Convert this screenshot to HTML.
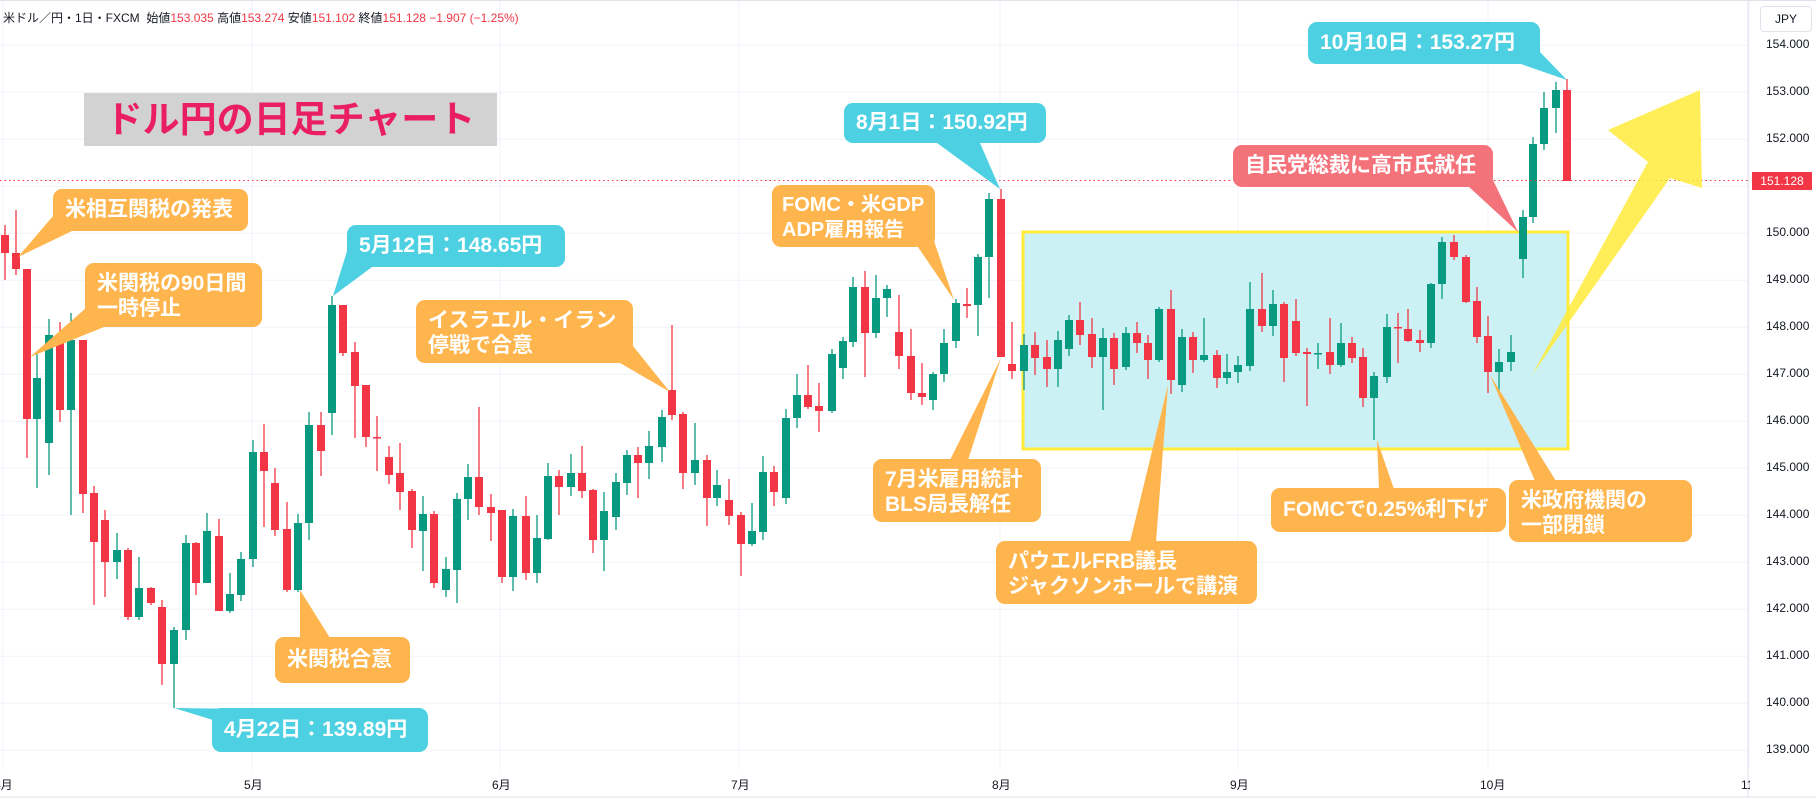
<!DOCTYPE html>
<html><head><meta charset="utf-8"><style>
html,body{margin:0;padding:0;background:#fff;}
#w{position:relative;width:1816px;height:798px;overflow:hidden;font-family:"Liberation Sans","Noto Sans CJK JP",sans-serif;}
svg{position:absolute;left:0;top:0;}
.b{position:absolute;color:#fff;font-weight:bold;font-size:21px;line-height:25px;border-radius:9px;box-sizing:border-box;padding:8px 12px;white-space:nowrap;font-family:"Liberation Sans","Noto Sans CJK JP",sans-serif;}
.o{background:#ffb54d;}
.c{background:#4dd0e1;}
.p{background:#f4737b;}
.one{padding:0 12px;line-height:42px;}
.ax{position:absolute;font-size:12px;color:#131722;}
#hdr{position:absolute;left:3px;top:9px;font-size:12px;color:#131722;white-space:nowrap;}
#hdr span{color:#f23645;}
</style></head><body><div id="w">
<svg id="s" width="1816" height="798" viewBox="0 0 1816 798"></svg>
<div id="hdr">米ドル／円・1日・FXCM &nbsp;始値<span>153.035</span> 高値<span>153.274</span> 安値<span>151.102</span> 終値<span>151.128 −1.907 (−1.25%)</span></div>
<div style="position:absolute;left:1760px;top:6px;width:52px;height:26px;border:1px solid #e0e3eb;border-radius:4px;box-sizing:border-box;font-size:12px;text-align:center;line-height:24px;color:#131722;">JPY</div>
<div style="position:absolute;left:84px;top:93px;width:413px;height:53px;background:#d2d2d2;color:#e91e63;font-weight:bold;font-size:37px;line-height:53px;text-align:center;font-family:'Liberation Sans','Noto Sans CJK JP',sans-serif;">ドル円の日足チャート</div>
<div class="b o one" style="left:53px;top:189px;width:195px;height:42px;">米相互関税の発表</div>
<div class="b o" style="left:85px;top:263px;width:177px;height:64px;">米関税の90日間<br>一時停止</div>
<div class="b c one" style="left:347px;top:225px;width:218px;height:42px;">5月12日：148.65円</div>
<div class="b o" style="left:416px;top:300px;width:217px;height:63px;">イスラエル・イラン<br>停戦で合意</div>
<div class="b o" style="left:772px;top:185px;width:163px;height:62px;font-size:20px;padding:8px 10px;">FOMC・米GDP<br>ADP雇用報告</div>
<div class="b c one" style="left:844px;top:103px;width:202px;height:40px;line-height:40px;">8月1日：150.92円</div>
<div class="b o" style="left:873px;top:459px;width:168px;height:63px;">7月米雇用統計<br>BLS局長解任</div>
<div class="b o" style="left:996px;top:541px;width:261px;height:63px;">パウエルFRB議長<br>ジャクソンホールで講演</div>
<div class="b o one" style="left:1271px;top:488px;width:235px;height:44px;line-height:44px;">FOMCで0.25%利下げ</div>
<div class="b o" style="left:1509px;top:480px;width:183px;height:62px;">米政府機関の<br>一部閉鎖</div>
<div class="b p one" style="left:1233px;top:145px;width:260px;height:42px;">自民党総裁に高市氏就任</div>
<div class="b c one" style="left:1308px;top:22px;width:232px;height:42px;">10月10日：153.27円</div>
<div class="b c one" style="left:212px;top:708px;width:216px;height:44px;line-height:44px;">4月22日：139.89円</div>
<div class="b o one" style="left:275px;top:637px;width:135px;height:46px;line-height:46px;">米関税合意</div>
<div id="ax"></div>
</div>
<script>
var NS="http://www.w3.org/2000/svg",s=document.getElementById('s');
function el(t,a){var e=document.createElementNS(NS,t);for(var k in a)e.setAttribute(k,a[k]);s.appendChild(e);return e;}
function Y(p){return 45.3+(154-p)*47.0;}
for(var p=139;p<=154;p++){el('line',{x1:0,x2:1748,y1:Y(p),y2:Y(p),stroke:'#f0f3fa','stroke-width':1});}
var months=[[3,'月'],[252,'5月'],[500,'6月'],[739,'7月'],[1000,'8月'],[1238,'9月'],[1488,'10月'],[1749,'11月']];
months.forEach(function(m){el('line',{x1:m[0],x2:m[0],y1:0,y2:770,stroke:'#f0f3fa','stroke-width':1});});
el('line',{x1:1748,x2:1748,y1:0,y2:798,stroke:'#e0e3eb','stroke-width':1});
el('line',{x1:0,x2:1816,y1:797,y2:797,stroke:'#e0e3eb','stroke-width':1});
el('line',{x1:0,x2:1816,y1:0.5,y2:0.5,stroke:'#e0e3eb','stroke-width':1});
el('rect',{x:1023,y:232,width:545,height:217,fill:'#cbf1f4',stroke:'#ffeb3b','stroke-width':3});
var D=[[5,235,253,225,280],[16,253,269,210,275],[27,269,419,269,458],[37,419,378,353,488],[49,443,335,319,475],[60,335,410,322,422],[71,410,340,313,515],[83,340,494,340,513],[94,493,542,486,605],[105,520,562,510,597],[117,562,550,533,579],[128,550,617,548,620],[139,617,588,557,620],[151,588,603,587,605],[162,607,664,600,685],[174,664,630,627,708],[186,630,543,535,640],[196,543,583,542,595],[207,583,531,513,583],[219,536,611,519,611],[230,611,594,573,613],[241,595,559,552,601],[253,559,452,440,567],[264,452,471,424,527],[275,483,530,468,536],[287,529,590,502,592],[298,590,523,514,592],[309,523,425,412,540],[321,425,451,412,476],[332,413,305,296,435],[343,305,353,305,356],[355,352,386,342,438],[366,385,437,385,447],[377,437,438,416,471],[389,457,475,446,484],[400,473,492,443,510],[412,491,530,489,548],[423,531,514,496,571],[434,514,583,511,588],[446,590,569,557,597],[457,570,499,493,603],[468,499,477,464,520],[479,477,507,407,515],[491,507,513,494,541],[502,510,577,510,583],[513,577,516,509,591],[526,516,573,496,580],[537,573,538,515,583],[548,539,476,463,540],[559,476,487,470,515],[571,487,473,454,496],[582,473,491,446,498],[593,490,540,489,553],[604,540,511,492,571],[616,517,482,473,530],[627,483,455,450,495],[638,455,463,447,498],[649,463,446,431,479],[662,447,417,410,462],[672,390,415,325,420],[683,414,473,412,489],[695,473,460,423,485],[707,460,498,455,526],[717,498,485,470,506],[729,500,516,479,525],[741,515,544,512,576],[752,544,531,503,546],[763,532,472,456,540],[774,472,492,466,506],[786,498,418,409,504],[797,418,395,374,428],[808,395,407,365,409],[819,406,411,383,432],[832,411,354,349,413],[843,368,341,337,379],[853,342,287,277,347],[865,287,333,271,377],[876,333,298,275,338],[887,298,289,285,317],[899,332,356,295,369],[911,356,393,329,400],[922,393,397,363,405],[933,400,374,372,410],[944,374,343,329,382],[956,341,303,299,348],[967,304,306,288,318],[978,305,257,254,336],[989,257,199,193,298],[1001,199,357,189,357],[1012,364,371,322,379],[1024,371,345,334,390],[1035,345,358,332,375],[1047,357,369,340,387],[1058,369,340,331,387],[1069,349,320,315,356],[1080,320,335,302,345],[1092,334,357,318,368],[1103,357,338,328,410],[1114,338,369,333,385],[1126,367,333,327,370],[1137,333,343,322,353],[1148,343,360,335,379],[1159,360,309,307,362],[1171,309,380,290,394],[1182,385,337,329,392],[1193,337,360,332,373],[1204,360,355,318,362],[1217,355,378,350,388],[1227,378,372,354,384],[1238,372,365,356,383],[1250,366,309,282,371],[1262,309,326,273,332],[1273,326,304,290,336],[1284,304,358,302,382],[1296,321,353,299,356],[1307,352,354,348,406],[1318,354,353,343,369],[1330,352,365,318,374],[1341,365,343,323,367],[1352,343,358,337,363],[1363,357,398,348,407],[1374,398,376,372,440],[1387,377,327,314,383],[1398,327,328,313,363],[1408,329,341,309,342],[1420,340,343,330,352],[1431,343,284,283,348],[1442,284,242,237,299],[1454,242,257,235,260],[1466,257,302,255,303],[1477,301,337,287,343],[1488,336,372,316,393],[1499,372,362,349,392],[1511,362,352,335,371],[1523,259,217,210,278],[1533,217,144,137,223],[1544,144,108,92,150],[1556,108,90,82,133],[1567,90,181,79,181]];
D.forEach(function(d){var x=d[0],o=d[1],c=d[2],h=d[3],l=d[4];var col=c<o?'#089981':'#f23645';
el('line',{x1:x,x2:x,y1:h,y2:l,stroke:col,'stroke-width':1.3});
var t=Math.min(o,c),bh=Math.max(1.5,Math.abs(o-c));el('rect',{x:x-4,y:t,width:8,height:bh,fill:col});});
el('line',{x1:0,x2:1748,y1:180.5,y2:180.5,stroke:'#f23645','stroke-width':1,'stroke-dasharray':'1.5 3'});
el('polygon',{points:'1532,375 1648,162 1608,130 1700,90 1702,188 1670,178',fill:'#ffeb3b','fill-opacity':0.85});
var T=[['#ffb54d','53,216 72,231 18,257'],['#ffb54d','86,308 104,327 30,357'],['#4dd0e1','348,248 372,267 333,296'],['#ffb54d','620,363 633,346 670,392'],['#ffb54d','918,247 933,238 954,300'],['#4dd0e1','937,143 980,143 1000,189'],['#ffb54d','950,460 968,460 1001,358'],['#ffb54d','1130,542 1156,542 1168,385'],['#ffb54d','1379,489 1394,489 1377,440'],['#ffb54d','1535,481 1556,481 1490,375'],['#f4737b','1468,186 1492,178 1518,232'],['#4dd0e1','1518,63 1540,52 1567,80'],['#4dd0e1','213,720 246,709 174,708'],['#ffb54d','300,638 330,638 300,590']];
T.forEach(function(t){el('polygon',{points:t[1],fill:t[0]});});
var ax=document.getElementById('ax'),h='';
for(var p=139;p<=154;p++){if(p==151)continue;h+='<div class="ax" style="left:1766px;top:'+(Y(p)-8)+'px;">'+p+'.000</div>';}
h+='<div style="position:absolute;left:1752px;top:172px;width:60px;height:18px;background:#f23645;color:#fff;font-size:12px;line-height:18px;text-align:center;">151.128</div>';
months.forEach(function(m,i){var l=i==0?-6:m[0]-8;h+='<div class="ax" style="left:'+l+'px;top:776px;'+(i==7?'width:'+(1750-l)+'px;overflow:hidden;white-space:nowrap;':'')+'">'+(i==0?'4月':m[1])+'</div>';});
ax.innerHTML=h;
</script>
</body></html>
